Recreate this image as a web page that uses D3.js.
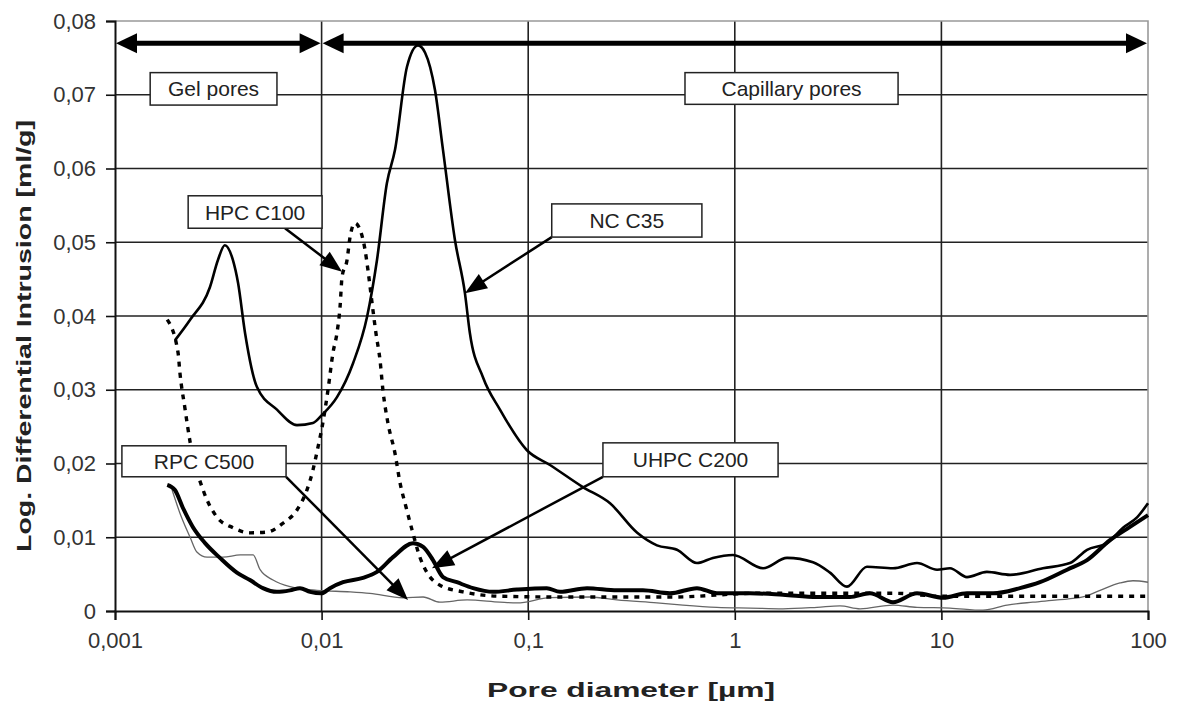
<!DOCTYPE html>
<html>
<head>
<meta charset="utf-8">
<script src="https://cdn.jsdelivr.net/npm/d3@7"></script>
<style>
  body { margin: 0; background: #fff; }
  text { font-family: "Liberation Sans", Arial, sans-serif; }
</style>
</head>
<body>
<svg id="chart" width="1177" height="702"></svg>
<script>
// pore diameter [um], log. differential intrusion [ml/g]
var ncC35 = [[0.00195,0.0367],[0.00231,0.0395],[0.00288,0.0439],[0.00315,0.0476],[0.0034,0.0496],[0.00372,0.0476],
  [0.00394,0.0445],[0.00426,0.0377],[0.00486,0.0304],[0.00608,0.0273],[0.0076,0.0252],[0.00908,0.0255],[0.01005,0.0266],
  [0.01187,0.029],[0.0142,0.0336],[0.0166,0.0399],[0.01854,0.0476],[0.0207,0.058],[0.02265,0.0625],[0.0259,0.0738],
  [0.0293,0.0767],[0.0317,0.0757],[0.0354,0.0706],[0.0387,0.0625],[0.0442,0.0503],[0.0494,0.0431],[0.0522,0.0377],
  [0.0604,0.0317],[0.073,0.0273],[0.0986,0.0218],[0.1275,0.0198],[0.184,0.0168],[0.249,0.0146],[0.337,0.0106],
  [0.42,0.0089],[0.525,0.0083],[0.656,0.0065],[0.783,0.0072],[0.98,0.0076],[1.37,0.0058],[1.79,0.0072],[2.39,0.0066],
  [2.89,0.0052],[3.49,0.0033],[4.36,0.006],[5.83,0.0058],[7.62,0.0065],[9.53,0.0056],[11.0,0.0058],[13.3,0.0046],
  [16.6,0.0053],[21.5,0.0049],[31.0,0.0058],[41.9,0.0065],[50.7,0.0083],[63.3,0.0092],[75.7,0.0113],[88.5,0.0127],[100,0.0146]];

var hpcC100 = [[0.00179,0.0395],[0.00202,0.035],[0.00206,0.0324],[0.00218,0.0275],[0.00231,0.0229],[0.00267,0.0164],
  [0.00312,0.0127],[0.00372,0.0113],[0.0045,0.0106],[0.00545,0.0107],[0.0065,0.0119],[0.0076,0.0137],[0.00849,0.0164],
  [0.00908,0.0191],[0.0096,0.0222],[0.01005,0.0249],[0.01074,0.03],[0.01135,0.035],[0.01187,0.0377],[0.01228,0.0412],
  [0.01256,0.0453],[0.01328,0.0476],[0.01373,0.0507],[0.01451,0.0526],[0.01535,0.0517],[0.01622,0.049],[0.01677,0.0462],
  [0.01754,0.0418],[0.01832,0.0377],[0.01918,0.034],[0.0198,0.03],[0.02094,0.0255],[0.02265,0.0214],[0.02396,0.0174],
  [0.02562,0.0141],[0.0274,0.011],[0.0299,0.0073],[0.0324,0.0052],[0.0374,0.0035],[0.0483,0.0026],[0.073,0.002],
  [0.15,0.0019],[0.5,0.0019],[1.3,0.0024],[6,0.0024],[10,0.002],[30,0.002],[100,0.002]];

var uhpcC200 = [[0.00179,0.0171],[0.00195,0.0164],[0.00213,0.014],[0.00238,0.0114],[0.00273,0.0092],[0.00322,0.0072],
  [0.00389,0.0052],[0.0045,0.0042],[0.0052,0.0031],[0.00608,0.0026],[0.00703,0.0028],[0.00786,0.0031],[0.0088,0.0026],
  [0.01,0.0024],[0.01098,0.0031],[0.0127,0.0039],[0.01585,0.0045],[0.01854,0.0053],[0.02216,0.0073],[0.0277,0.0092],
  [0.031,0.0087],[0.0346,0.0069],[0.0387,0.0046],[0.0452,0.0039],[0.0541,0.0031],[0.0675,0.0026],[0.0883,0.0029],
  [0.123,0.0031],[0.1426,0.0026],[0.1926,0.0031],[0.269,0.0028],[0.359,0.0028],[0.485,0.0024],[0.656,0.0031],
  [0.82,0.0024],[1.185,0.0024],[1.71,0.0022],[2.5,0.0019],[3.61,0.0019],[4.51,0.0024],[5.83,0.0012],[7.62,0.0024],
  [10.2,0.0018],[13.3,0.0024],[17.8,0.0024],[24.0,0.0031],[30.0,0.0039],[40.6,0.0056],[50.7,0.0069],[65.5,0.0096],
  [81.8,0.0114],[100,0.013]];

var rpcC500 = [[0.00189,0.0164],[0.00206,0.0133],[0.00231,0.01],[0.00249,0.008],[0.00279,0.0073],[0.00333,0.0073],
  [0.00404,0.0076],[0.00466,0.0076],[0.00504,0.0056],[0.00582,0.0042],[0.00703,0.0033],[0.0095,0.0028],[0.01373,0.0026],
  [0.01714,0.0024],[0.02477,0.0018],[0.031,0.0019],[0.0374,0.0012],[0.0506,0.0015],[0.073,0.0012],[0.0883,0.0011],
  [0.1275,0.0018],[0.199,0.0019],[0.269,0.0015],[0.42,0.0011],[0.561,0.0008],[0.82,0.0005],[1.185,0.0004],[1.71,0.0003],
  [2.5,0.0005],[3.23,0.0007],[4.04,0.0003],[5.83,0.0008],[7.62,0.0005],[11.0,0.0004],[15.9,0.0001],[20.8,0.0008],
  [27.7,0.0012],[36.3,0.0015],[48.4,0.0019],[58.6,0.0028],[73.2,0.0038],[84.6,0.0041],[100,0.0039]];

var xTicks = [0.001, 0.01, 0.1, 1, 10, 100];
var xTickLabels = ["0,001", "0,01", "0,1", "1", "10", "100"];
var yTicks = [0, 0.01, 0.02, 0.03, 0.04, 0.05, 0.06, 0.07, 0.08];
var yTickLabels = ["0", "0,01", "0,02", "0,03", "0,04", "0,05", "0,06", "0,07", "0,08"];

// pore ranges drawn as double arrows at the top
var ranges = [["Gel pores", 0.001, 0.01], ["Capillary pores", 0.01, 100]];
var rangeLevel = 0.077;

// label boxes: text, left, right (diameter), top, bottom (value)
var boxes = [
  ["Gel pores", 0.00148, 0.00608, 0.073, 0.0686],
  ["Capillary pores", 0.574, 6.17, 0.073, 0.0687],
  ["HPC C100", 0.00226, 0.01005, 0.0563, 0.0519],
  ["NC C35", 0.130, 0.693, 0.0552, 0.0507],
  ["RPC C500", 0.00108, 0.00673, 0.0224, 0.0182],
  ["UHPC C200", 0.230, 1.62, 0.0228, 0.0182]
];
// pointer arrows: from [d, v] to [d, v]
var pointers = [
  [[0.00665, 0.0519], [0.01256, 0.046]],
  [[0.130, 0.0507], [0.0494, 0.0431]],
  [[0.00673, 0.0182], [0.0262, 0.0015]],
  [[0.230, 0.0182], [0.0342, 0.0058]]
];

var width = 1177, height = 702;
var svg = d3.select('#chart');
svg.append('rect').attr('width', width).attr('height', height).attr('fill', '#fff');

var x = d3.scaleLog().domain([0.001, 100]).range([115, 1148]);
var y = d3.scaleLinear().domain([0, 0.08]).range([611, 21]);

// grid
svg.append('g').selectAll('line').data(yTicks.slice(1, -1)).enter().append('line')
  .attr('x1', x(0.001)).attr('x2', x(100))
  .attr('y1', function(d) { return y(d); }).attr('y2', function(d) { return y(d); })
  .attr('stroke', '#222').attr('stroke-width', 1.6);
svg.append('g').selectAll('line').data(xTicks.slice(1, -1)).enter().append('line')
  .attr('y1', y(0)).attr('y2', y(0.08))
  .attr('x1', function(d) { return x(d); }).attr('x2', function(d) { return x(d); })
  .attr('stroke', '#222').attr('stroke-width', 1.6);
// top and right frame (grey)
svg.append('path')
  .attr('d', 'M' + x(0.001) + ',' + y(0.08) + 'H' + x(100) + 'V' + y(0))
  .attr('fill', 'none').attr('stroke', '#999').attr('stroke-width', 1.6);

// axes
var xAxis = d3.axisBottom(x).tickValues(xTicks)
  .tickFormat(function(d, i) { return xTickLabels[i]; })
  .tickSize(9).tickPadding(12);
var yAxis = d3.axisLeft(y).tickValues(yTicks)
  .tickFormat(function(d, i) { return yTickLabels[i]; })
  .tickSize(9).tickPadding(10);

var gx = svg.append('g').attr('transform', 'translate(0,' + y(0) + ')').call(xAxis);
var gy = svg.append('g').attr('transform', 'translate(' + x(0.001) + ',0)').call(yAxis);
[gx, gy].forEach(function(g) {
  g.select('.domain').attr('stroke', '#111').attr('stroke-width', 2);
  g.selectAll('.tick line').attr('stroke', '#111').attr('stroke-width', 1.6);
  g.selectAll('.tick text').attr('font-size', 22).attr('fill', '#333')
    .style('font-family', '"Liberation Sans", Arial, sans-serif');
});

// axis titles (stretched a bit, like the scanned original)
svg.append('text')
  .attr('x', 631).attr('y', 697)
  .attr('text-anchor', 'middle').attr('font-size', 21).attr('font-weight', 'bold').attr('fill', '#222')
  .attr('textLength', 288).attr('lengthAdjust', 'spacingAndGlyphs')
  .text('Pore diameter [\u00b5m]');
svg.append('text')
  .attr('transform', 'translate(31,' + 336 + ') rotate(-90)')
  .attr('text-anchor', 'middle').attr('font-size', 21).attr('font-weight', 'bold').attr('fill', '#222')
  .attr('textLength', 432).attr('lengthAdjust', 'spacingAndGlyphs')
  .text('Log. Differential Intrusion [ml/g]');

// curves
var line = d3.line()
  .x(function(d) { return x(d[0]); })
  .y(function(d) { return y(d[1]); })
  .curve(d3.curveMonotoneX);

svg.append('path').datum(rpcC500).attr('d', line)
  .attr('fill', 'none').attr('stroke', '#666').attr('stroke-width', 1.3);
svg.append('path').datum(hpcC100).attr('d', line)
  .attr('fill', 'none').attr('stroke', '#000').attr('stroke-width', 3.4)
  .attr('stroke-dasharray', '5,6');
svg.append('path').datum(ncC35).attr('d', line)
  .attr('fill', 'none').attr('stroke', '#000').attr('stroke-width', 2.6);
svg.append('path').datum(uhpcC200).attr('d', line)
  .attr('fill', 'none').attr('stroke', '#000').attr('stroke-width', 4);

// arrow helper
function arrowHead(g, x1, y1, x2, y2, len, wid) {
  var a = Math.atan2(y2 - y1, x2 - x1);
  var bx = x2 - len * Math.cos(a), by = y2 - len * Math.sin(a);
  var nx = -Math.sin(a) * wid / 2, ny = Math.cos(a) * wid / 2;
  g.append('path')
    .attr('d', 'M' + x2 + ',' + y2 + 'L' + (bx + nx) + ',' + (by + ny) + 'L' + (bx - nx) + ',' + (by - ny) + 'Z')
    .attr('fill', '#000');
}

var ann = svg.append('g');
ranges.forEach(function(r) {
  var x1 = x(r[1]) + 1, x2 = x(r[2]) - 1, yy = y(rangeLevel);
  ann.append('line').attr('x1', x1 + 15).attr('x2', x2 - 15).attr('y1', yy).attr('y2', yy)
    .attr('stroke', '#000').attr('stroke-width', 5);
  arrowHead(ann, x2, yy, x1, yy, 21, 20);
  arrowHead(ann, x1, yy, x2, yy, 21, 20);
});

pointers.forEach(function(p) {
  var x1 = x(p[0][0]), y1 = y(p[0][1]), x2 = x(p[1][0]), y2 = y(p[1][1]);
  var a = Math.atan2(y2 - y1, x2 - x1);
  ann.append('line').attr('x1', x1).attr('y1', y1)
    .attr('x2', x2 - 15 * Math.cos(a)).attr('y2', y2 - 15 * Math.sin(a))
    .attr('stroke', '#000').attr('stroke-width', 2.5);
  arrowHead(ann, x1, y1, x2, y2, 22, 17);
});

boxes.forEach(function(b) {
  var x0 = x(b[1]), x1 = x(b[2]), y0 = y(b[3]), y1 = y(b[4]);
  ann.append('rect').attr('x', x0).attr('y', y0).attr('width', x1 - x0).attr('height', y1 - y0)
    .attr('fill', '#fff').attr('stroke', '#222').attr('stroke-width', 1.5);
  ann.append('text').attr('x', (x0 + x1) / 2).attr('y', (y0 + y1) / 2 + 7.5)
    .attr('text-anchor', 'middle').attr('font-size', 21).attr('fill', '#222').text(b[0]);
});
</script>
</body>
</html>
